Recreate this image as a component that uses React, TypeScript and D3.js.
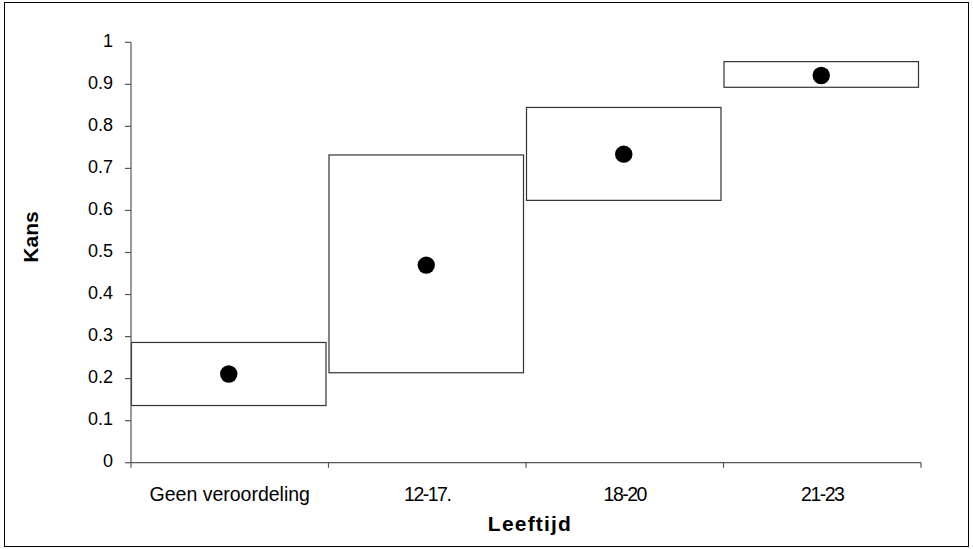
import React from "react";
import * as d3 from "d3";

const categories = ["Geen veroordeling", "12-17.", "18-20", "21-23"];
const lowerValues = [0.136, 0.214, 0.624, 0.893];
const upperValues = [0.286, 0.732, 0.845, 0.954];
const estimateValues = [0.211, 0.47, 0.734, 0.921];
const yTicks = [0, 0.1, 0.2, 0.3, 0.4, 0.5, 0.6, 0.7, 0.8, 0.9, 1];
const xTitle = "Leeftijd";
const yTitle = "Kans";

const W = 973;
const H = 549;
const left = 131;
const right = 921;
const top = 42.3;
const bottom = 462.7;

export default function App() {
  const x = d3.scaleBand<string>().domain(categories).range([left, right]).padding(0);
  const y = d3.scaleLinear().domain([0, 1]).range([bottom, top]);
  const bw = x.bandwidth();
  const font = "Liberation Sans, Arial, sans-serif";
  const axisColor = "#555";

  return (
    <svg
      width={W}
      height={H}
      style={{ position: "absolute", left: 0, top: 0, background: "#fff" }}
      fontFamily={font}
    >
      <rect x={4.5} y={2.5} width={964} height={544} fill="#fff" stroke="#000" strokeWidth={1} />

      {/* boxes */}
      {categories.map((c, i) => {
        const bx = (x(c) as number) + 0.5;
        const w = bw - 3;
        return (
          <g key={c}>
            <rect
              x={bx}
              y={y(upperValues[i])}
              width={w}
              height={y(lowerValues[i]) - y(upperValues[i])}
              fill="#fff"
              stroke="#333"
              strokeWidth={1.2}
            />
            <circle cx={bx + w / 2} cy={y(estimateValues[i])} r={8.7} fill="#000" />
          </g>
        );
      })}

      {/* y axis */}
      <line x1={left} x2={left} y1={top} y2={bottom} stroke={axisColor} strokeWidth={1.2} />
      {yTicks.map((t) => (
        <g key={t}>
          <line x1={left - 6} x2={left} y1={y(t)} y2={y(t)} stroke={axisColor} strokeWidth={1.2} />
          <text x={113} y={y(t) + 4.5} textAnchor="end" fontSize={18} fill="#000">
            {d3.format("")(t)}
          </text>
        </g>
      ))}

      {/* x axis */}
      <line x1={left} x2={right} y1={bottom} y2={bottom} stroke={axisColor} strokeWidth={1.2} />
      {[...categories.map((c) => x(c) as number), right].map((px, i) => (
        <line key={i} x1={px} x2={px} y1={bottom} y2={bottom + 5} stroke={axisColor} strokeWidth={1.2} />
      ))}
      {categories.map((c) => {
        const numeric = /^[\d\-.]+$/.test(c);
        return (
          <text
            key={c}
            x={(x(c) as number) + bw / 2}
            y={500.5}
            textAnchor="middle"
            fontSize={19.5}
            letterSpacing={numeric ? -1.5 : 0}
            fill="#000"
          >
            {c}
          </text>
        );
      })}

      <text x={530} y={531} textAnchor="middle" fontSize={21} fontWeight="bold" letterSpacing={1.2} fill="#000">
        {xTitle}
      </text>
      <text
        transform={`translate(38, 237) rotate(-90)`}
        textAnchor="middle"
        fontSize={21}
        fontWeight="bold"
        fill="#000"
      >
        {yTitle}
      </text>
    </svg>
  );
}
